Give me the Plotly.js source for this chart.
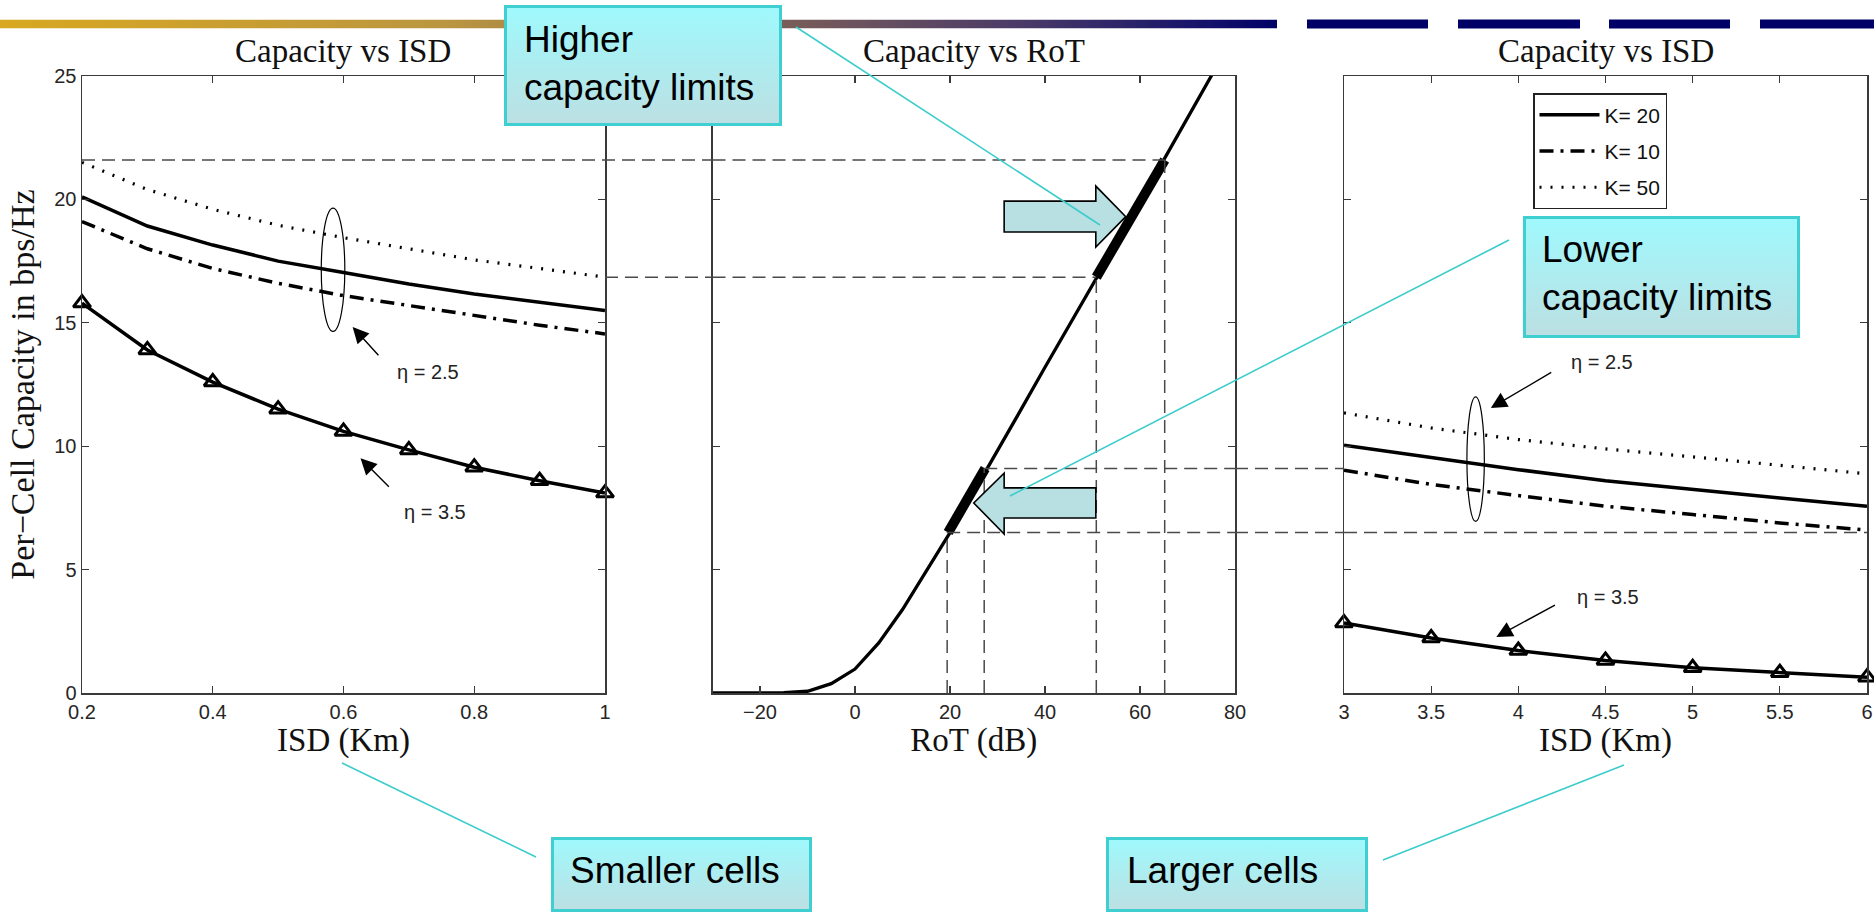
<!DOCTYPE html>
<html>
<head>
<meta charset="utf-8">
<script src="https://cdn.plot.ly/plotly-3.0.1.min.js"></script>
<style>html,body{margin:0;padding:0;background:#fff;}#chart{width:1874px;height:913px;}</style>
</head>
<body>
<div id="chart"></div>
<script>
// ---------------- data ----------------
const isdSmall = [0.2, 0.3, 0.4, 0.5, 0.6, 0.7, 0.8, 0.9, 1.0];
const capSmallK50 = [21.5, 20.4, 19.6, 18.95, 18.45, 18.0, 17.55, 17.2, 16.85];
const capSmallK20 = [20.1, 18.92, 18.15, 17.5, 17.04, 16.57, 16.17, 15.83, 15.5];
const capSmallK10 = [19.1, 18.0, 17.2, 16.6, 16.1, 15.7, 15.3, 14.9, 14.55];
const capSmallEta35 = [15.8, 13.9, 12.6, 11.5, 10.6, 9.85, 9.15, 8.6, 8.1];

const rotDb = [-30, -25, -20, -15, -10, -5, 0, 5, 10, 15, 20, 25, 30, 35, 40, 45, 50, 55, 60, 65, 70, 75, 80];
const capRot = [0, 0, 0, 0.01, 0.07, 0.38, 0.97, 2.03, 3.38, 4.93, 6.5, 8.15, 9.8, 11.5, 13.2, 14.85, 16.5, 18.2, 19.9, 21.6, 23.3, 25.0, 26.7];
const lowLimitRot = [19.6, 27.4];
const lowLimitCap = [6.5, 9.1];
const highLimitRot = [50.8, 65.2];
const highLimitCap = [16.85, 21.6];

const isdLarge = [3, 3.5, 4, 4.5, 5, 5.5, 6];
const capLargeK50 = [11.35, 10.74, 10.27, 9.89, 9.57, 9.22, 8.88];
const capLargeK20 = [10.04, 9.53, 9.05, 8.6, 8.24, 7.9, 7.57];
const capLargeK10 = [9.03, 8.45, 8.0, 7.57, 7.23, 6.89, 6.6];
const capLargeEta35 = [2.84, 2.23, 1.72, 1.32, 1.02, 0.82, 0.64];

const smallTicks = [0.2, 0.4, 0.6, 0.8, 1];
const smallTickText = ['0.2', '0.4', '0.6', '0.8', '1'];
const rotTicks = [-20, 0, 20, 40, 60, 80];
const rotTickText = ['\u221220', '0', '20', '40', '60', '80'];
const largeTicks = [3, 3.5, 4, 4.5, 5, 5.5, 6];
const largeTickText = ['3', '3.5', '4', '4.5', '5', '5.5', '6'];
const capTicks = [0, 5, 10, 15, 20, 25];
const capTickText = ['0', '5', '10', '15', '20', '25'];

const legendNames = ['K= 20', 'K= 10', 'K= 50'];

// guide levels
const guideHigh = 21.6, guideHighMid = 16.85, guideLowTop = 9.1, guideLow = 6.5;

// ---------------- layout helpers ----------------
const W = 1874, H = 913;
const px = v => v / W;
const py = v => 1 - v / H;
const dom1 = [px(82), px(605)];
const dom2 = [px(712.5), px(1235)];
const dom3 = [px(1344), px(1867)];
const yDom = [py(693), py(76)];

const serif = 'Liberation Serif, Times New Roman, serif';
const sans = 'Liberation Sans, Arial, sans-serif';

function axisStyle(extra) {
  return Object.assign({
    showline: true, linecolor: '#3a3a3a', linewidth: 1.5, mirror: 'ticks',
    ticks: 'inside', ticklen: 7, tickwidth: 1.3, tickcolor: '#3a3a3a',
    showgrid: false, zeroline: false, fixedrange: true,
    tickfont: {family: sans, size: 20, color: '#262626'}
  }, extra);
}

const solid = {color: '#000', width: 3.5};
const dashdot = {color: '#000', width: 3.5, dash: '14px,7px,3px,7px'};
const dotted = {color: '#000', width: 3.2, dash: '2px,9px'};
const triMarker = {symbol: 'triangle-up-open', size: 15, color: '#000', line: {width: 3, color: '#000'}};

const traces = [
  // left panel
  {x: isdSmall, y: capSmallK50, xaxis: 'x', yaxis: 'y', mode: 'lines', line: dotted, showlegend: false, name: 'K= 50'},
  {x: isdSmall, y: capSmallK20, xaxis: 'x', yaxis: 'y', mode: 'lines', line: solid, showlegend: false, name: 'K= 20'},
  {x: isdSmall, y: capSmallK10, xaxis: 'x', yaxis: 'y', mode: 'lines', line: dashdot, showlegend: false, name: 'K= 10'},
  {x: isdSmall, y: capSmallEta35, xaxis: 'x', yaxis: 'y', mode: 'lines+markers', line: solid, marker: triMarker, cliponaxis: false, showlegend: false, name: '\u03b7 = 3.5'},
  // middle panel
  {x: rotDb, y: capRot, xaxis: 'x2', yaxis: 'y2', mode: 'lines', line: {color: '#000', width: 3.3}, showlegend: false, name: 'Capacity vs RoT'},
  {x: lowLimitRot, y: lowLimitCap, xaxis: 'x2', yaxis: 'y2', mode: 'lines', line: {color: '#000', width: 10}, showlegend: false, name: 'Lower limits'},
  {x: highLimitRot, y: highLimitCap, xaxis: 'x2', yaxis: 'y2', mode: 'lines', line: {color: '#000', width: 10}, showlegend: false, name: 'Higher limits'},
  // right panel
  {x: isdLarge, y: capLargeK20, xaxis: 'x3', yaxis: 'y3', mode: 'lines', line: solid, name: legendNames[0], legendgroup: 'a'},
  {x: isdLarge, y: capLargeK10, xaxis: 'x3', yaxis: 'y3', mode: 'lines', line: dashdot, name: legendNames[1], legendgroup: 'b'},
  {x: isdLarge, y: capLargeK50, xaxis: 'x3', yaxis: 'y3', mode: 'lines', line: dotted, name: legendNames[2], legendgroup: 'c'},
  {x: isdLarge, y: capLargeEta35, xaxis: 'x3', yaxis: 'y3', mode: 'lines+markers', line: solid, marker: triMarker, cliponaxis: false, showlegend: false, name: '\u03b7 = 3.5'}
];

// ---------------- decorations ----------------
const guide = {color: '#4a4a4a', width: 1.5, dash: '13px,7px'};
const teal = {color: '#3ccccc', width: 1.6};
const shapes = [
  // horizontal guides
  {type: 'line', xref: 'paper', yref: 'y', x0: dom1[0], x1: dom2[0], y0: guideHigh, y1: guideHigh, line: guide},
  {type: 'line', xref: 'x2', yref: 'y2', x0: -30, x1: highLimitRot[1], y0: guideHigh, y1: guideHigh, line: guide},
  {type: 'line', xref: 'paper', yref: 'y', x0: dom1[1], x1: dom2[0], y0: guideHighMid, y1: guideHighMid, line: guide},
  {type: 'line', xref: 'x2', yref: 'y2', x0: -30, x1: highLimitRot[0], y0: guideHighMid, y1: guideHighMid, line: guide},
  {type: 'line', xref: 'x2', yref: 'y2', x0: lowLimitRot[1] - 0.2, x1: 80, y0: guideLowTop, y1: guideLowTop, line: guide},
  {type: 'line', xref: 'paper', yref: 'y', x0: dom2[1], x1: dom3[0], y0: guideLowTop, y1: guideLowTop, line: guide},
  {type: 'line', xref: 'x2', yref: 'y2', x0: 19.4, x1: 80, y0: guideLow, y1: guideLow, line: guide},
  {type: 'line', xref: 'paper', yref: 'y', x0: dom2[1], x1: dom3[0], y0: guideLow, y1: guideLow, line: guide},
  {type: 'line', xref: 'x3', yref: 'y3', x0: 3, x1: 6, y0: guideLow, y1: guideLow, line: guide},
  // vertical guides
  {type: 'line', xref: 'x2', yref: 'y2', x0: 19.4, x1: 19.4, y0: 0, y1: guideLow, line: guide},
  {type: 'line', xref: 'x2', yref: 'y2', x0: 27.2, x1: 27.2, y0: 0, y1: guideLowTop, line: guide},
  {type: 'line', xref: 'x2', yref: 'y2', x0: highLimitRot[0], x1: highLimitRot[0], y0: 0, y1: guideHighMid, line: guide},
  {type: 'line', xref: 'x2', yref: 'y2', x0: highLimitRot[1], x1: highLimitRot[1], y0: 0, y1: guideHigh, line: guide},
  // ellipses
  {type: 'circle', xref: 'x', yref: 'y', x0: 0.566, x1: 0.602, y0: 14.65, y1: 19.65, line: {color: '#000', width: 1.2}},
  {type: 'circle', xref: 'x3', yref: 'y3', x0: 3.705, x1: 3.805, y0: 6.95, y1: 12.0, line: {color: '#000', width: 1.2}},
  // block arrows
  {type: 'path', xref: 'x2', yref: 'y2', path: 'M31.4,19.93 L50.7,19.93 L50.7,20.54 L57.0,19.3 L50.7,18.07 L50.7,18.68 L31.4,18.68 Z',
   fillcolor: '#b8dfe2', line: {color: '#000', width: 1.6}},
  {type: 'path', xref: 'x2', yref: 'y2', path: 'M50.7,8.31 L31.4,8.31 L31.4,8.91 L25.0,7.70 L31.4,6.44 L31.4,7.09 L50.7,7.09 Z',
   fillcolor: '#b8dfe2', line: {color: '#000', width: 1.6}},
  // callout connectors
  {type: 'line', xref: 'paper', yref: 'paper', x0: px(796), y0: py(27), x1: px(1100), y1: py(225), line: teal},
  {type: 'line', xref: 'paper', yref: 'paper', x0: px(1509), y0: py(240), x1: px(1010), y1: py(496), line: teal},
  {type: 'line', xref: 'paper', yref: 'paper', x0: px(342), y0: py(763), x1: px(536), y1: py(857), line: teal},
  {type: 'line', xref: 'paper', yref: 'paper', x0: px(1624), y0: py(765), x1: px(1383), y1: py(860), line: teal},
  // top bar dashes
  {type: 'rect', xref: 'paper', yref: 'paper', x0: px(1307), x1: px(1428), y0: py(28.5), y1: py(19.5), fillcolor: '#000066', line: {width: 0}},
  {type: 'rect', xref: 'paper', yref: 'paper', x0: px(1458), x1: px(1580), y0: py(28.5), y1: py(19.5), fillcolor: '#000066', line: {width: 0}},
  {type: 'rect', xref: 'paper', yref: 'paper', x0: px(1609), x1: px(1730), y0: py(28.5), y1: py(19.5), fillcolor: '#000066', line: {width: 0}},
  {type: 'rect', xref: 'paper', yref: 'paper', x0: px(1760), x1: px(1874), y0: py(28.5), y1: py(19.5), fillcolor: '#000066', line: {width: 0}}
];

function svgUri(svg) { return 'data:image/svg+xml;base64,' + btoa(svg); }
function boxSvg(w, h) {
  return svgUri(`<svg xmlns="http://www.w3.org/2000/svg" width="${w}" height="${h}" viewBox="0 0 ${w} ${h}" preserveAspectRatio="none">` +
    `<defs><linearGradient id="g" x1="0" y1="0" x2="0" y2="1"><stop offset="0" stop-color="#9ff9fd"/><stop offset="1" stop-color="#bcdfe2"/></linearGradient></defs>` +
    `<rect x="1.5" y="1.5" width="${w - 3}" height="${h - 3}" fill="url(#g)" stroke="#3fcfd0" stroke-width="3"/></svg>`);
}
function barSvg(w, h) {
  return svgUri(`<svg xmlns="http://www.w3.org/2000/svg" width="${w}" height="${h}" viewBox="0 0 ${w} ${h}" preserveAspectRatio="none">` +
    `<defs><linearGradient id="b" x1="0" y1="0" x2="1" y2="0"><stop offset="0" stop-color="#d8a820"/><stop offset="0.35" stop-color="#bb9640"/>` +
    `<stop offset="0.6" stop-color="#7d6058"/><stop offset="0.8" stop-color="#4a3a68"/><stop offset="0.95" stop-color="#12106a"/><stop offset="1" stop-color="#000066"/></linearGradient></defs>` +
    `<rect x="0" y="0" width="${w}" height="${h}" fill="url(#b)"/></svg>`);
}
function img(src, x0, y0, x1, y1) {
  return {source: src, xref: 'paper', yref: 'paper', x: px(x0), y: py(y0), sizex: (x1 - x0) / W, sizey: (y1 - y0) / H,
          xanchor: 'left', yanchor: 'top', sizing: 'stretch', layer: 'above'};
}
const images = [
  img(barSvg(1277, 9), 0, 19.5, 1277, 28.5),
  img(boxSvg(278, 121), 504, 5, 782, 126),
  img(boxSvg(277, 122), 1523, 216, 1800, 338),
  img(boxSvg(261, 75), 551, 837, 812, 912),
  img(boxSvg(262, 75), 1106, 837, 1368, 912)
];

const titleFont = {family: serif, size: 33, color: '#111'};
const yTitleFont = {family: serif, size: 34, color: '#111'};
const boxFont = {family: sans, size: 37, color: '#000'};
const etaFont = {family: sans, size: 20, color: '#222'};
const arrowBase = {showarrow: true, text: ' ', arrowhead: 2, arrowsize: 2.3, arrowwidth: 1.4, arrowcolor: '#000', standoff: 0, startstandoff: 0};

const annotations = [
  {text: 'Capacity vs ISD', xref: 'x domain', x: 0.5, yref: 'paper', y: py(51), yanchor: 'middle', showarrow: false, font: titleFont},
  {text: 'Capacity vs RoT', xref: 'x2 domain', x: 0.5, yref: 'paper', y: py(51), yanchor: 'middle', showarrow: false, font: titleFont},
  {text: 'Capacity vs ISD', xref: 'x3 domain', x: 0.5, yref: 'paper', y: py(51), yanchor: 'middle', showarrow: false, font: titleFont},
  // eta labels
  {text: '\u03b7 = 2.5', xref: 'x', yref: 'y', x: 0.730, y: 13.0, showarrow: false, font: etaFont},
  {text: '\u03b7 = 3.5', xref: 'x', yref: 'y', x: 0.740, y: 7.32, showarrow: false, font: etaFont},
  {text: '\u03b7 = 2.5', xref: 'x3', yref: 'y3', x: 4.481, y: 13.4, showarrow: false, font: etaFont},
  {text: '\u03b7 = 3.5', xref: 'x3', yref: 'y3', x: 4.516, y: 3.91, showarrow: false, font: etaFont},
  Object.assign({xref: 'x', yref: 'y', axref: 'x', ayref: 'y', x: 0.614, y: 14.83, ax: 0.658, ay: 13.55}, arrowBase),
  Object.assign({xref: 'x', yref: 'y', axref: 'x', ayref: 'y', x: 0.626, y: 9.51, ax: 0.674, ay: 8.23}, arrowBase),
  Object.assign({xref: 'x3', yref: 'y3', axref: 'x3', ayref: 'y3', x: 3.842, y: 11.55, ax: 4.206, ay: 13.06}, arrowBase),
  Object.assign({xref: 'x3', yref: 'y3', axref: 'x3', ayref: 'y3', x: 3.874, y: 2.27, ax: 4.227, ay: 3.63}, arrowBase),
  // callout texts
  {text: 'Higher<br>capacity limits', xref: 'paper', yref: 'paper', x: px(522), y: py(63), xanchor: 'left', yanchor: 'middle', align: 'left', showarrow: false, font: boxFont},
  {text: 'Lower<br>capacity limits', xref: 'paper', yref: 'paper', x: px(1540), y: py(274), xanchor: 'left', yanchor: 'middle', align: 'left', showarrow: false, font: boxFont},
  {text: 'Smaller cells', xref: 'paper', yref: 'paper', x: px(568), y: py(870), xanchor: 'left', yanchor: 'middle', align: 'left', showarrow: false, font: boxFont},
  {text: 'Larger cells', xref: 'paper', yref: 'paper', x: px(1125), y: py(870), xanchor: 'left', yanchor: 'middle', align: 'left', showarrow: false, font: boxFont}
];

const layout = {
  width: W, height: H,
  margin: {l: 0, r: 0, t: 0, b: 0},
  paper_bgcolor: '#fff', plot_bgcolor: 'rgba(0,0,0,0)',
  showlegend: true,
  legend: {x: px(1533), y: py(93), xanchor: 'left', yanchor: 'top', bgcolor: '#fff', bordercolor: '#222', borderwidth: 1.5,
           font: {family: sans, size: 21, color: '#111'}, traceorder: 'grouped', tracegroupgap: 6, itemwidth: 60},
  xaxis: axisStyle({domain: dom1, anchor: 'y', range: [0.2, 1], tickvals: smallTicks, ticktext: smallTickText,
                    title: {text: 'ISD (Km)', font: titleFont, standoff: 4}}),
  yaxis: axisStyle({domain: yDom, anchor: 'x', range: [0, 25], tickvals: capTicks, ticktext: capTickText,
                    title: {text: 'Per\u2212Cell Capacity in bps/Hz', font: yTitleFont, standoff: 9}}),
  xaxis2: axisStyle({domain: dom2, anchor: 'y2', range: [-30, 80], tickvals: rotTicks, ticktext: rotTickText,
                     title: {text: 'RoT (dB)', font: titleFont, standoff: 4}}),
  yaxis2: axisStyle({domain: yDom, anchor: 'x2', range: [0, 25], tickvals: capTicks, showticklabels: false}),
  xaxis3: axisStyle({domain: dom3, anchor: 'y3', range: [3, 6], tickvals: largeTicks, ticktext: largeTickText,
                     title: {text: 'ISD (Km)', font: titleFont, standoff: 4}}),
  yaxis3: axisStyle({domain: yDom, anchor: 'x3', range: [0, 25], tickvals: capTicks, showticklabels: false}),
  shapes: shapes,
  images: images,
  annotations: annotations
};

Plotly.newPlot('chart', traces, layout, {displayModeBar: false, staticPlot: true});
</script>
</body>
</html>
